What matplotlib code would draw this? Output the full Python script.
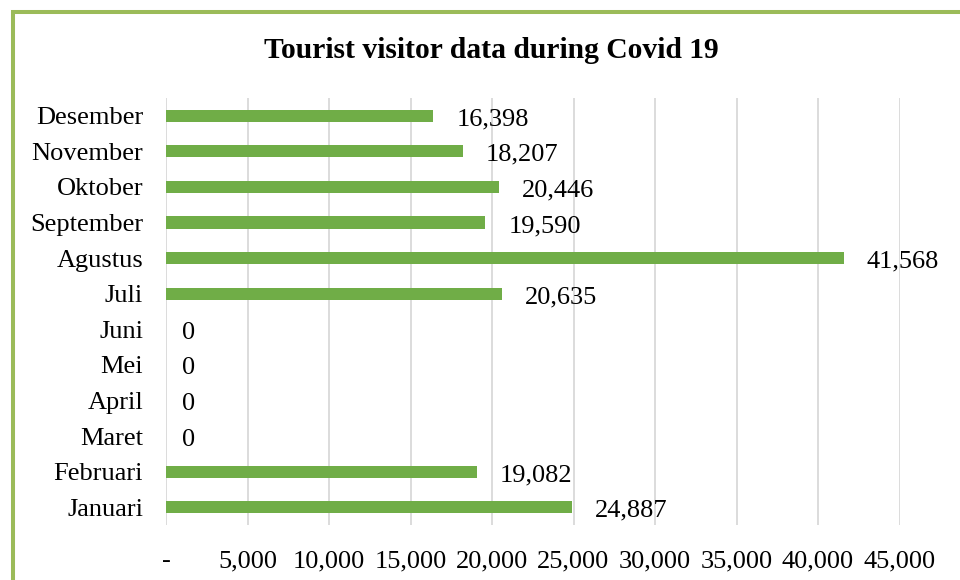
import matplotlib
matplotlib.use("Agg")
import matplotlib.pyplot as plt
from matplotlib.patches import Rectangle
from matplotlib.ticker import FuncFormatter

months = ["Januari", "Februari", "Maret", "April", "Mei", "Juni",
          "Juli", "Agustus", "September", "Oktober", "November", "Desember"]
visitors = [24887, 19082, 0, 0, 0, 0, 20635, 41568, 19590, 20446, 18207, 16398]
x_ticks = [0, 5000, 10000, 15000, 20000, 25000, 30000, 35000, 40000, 45000]
title = "Tourist visitor data during Covid 19"

plt.rcParams['font.family'] = ['Liberation Serif', 'DejaVu Serif']

W, H = 960, 580
fig = plt.figure(figsize=(W / 100, H / 100), dpi=100)
fig.patch.set_facecolor("white")

# green frame (cut at right/bottom edge)
fig.patches.append(Rectangle((12.5 / W, -0.1), 1.2, 1 - 11.5 / H + 0.1,
                             transform=fig.transFigure, fill=False,
                             edgecolor="#9BBB59", linewidth=2.9, zorder=0))

left, right = 166 / W, 899.5 / W
bottom, top = 1 - 525 / H, 1 - 98 / H
ax = fig.add_axes([left, bottom, right - left, top - bottom])

FS = 19
y = list(range(len(months)))
ax.barh(y, visitors, height=0.34, color="#70AD47", zorder=3)
ax.set_xlim(0, 45000)
ax.set_ylim(-0.5, len(months) - 0.5)
ax.set_yticks(y)
ax.set_yticklabels(months, fontsize=FS)
ax.set_xticks(x_ticks)
ax.xaxis.set_major_formatter(FuncFormatter(lambda v, p: "-" if v == 0 else f"{int(v):,}"))
ax.tick_params(axis="both", length=0, labelsize=FS)
ax.tick_params(axis="y", pad=16.5)
ax.tick_params(axis="x", pad=18)
for s in ax.spines.values():
    s.set_visible(False)
ax.grid(axis="x", color="#D9D9D9", linewidth=1.3, zorder=0)
ax.set_axisbelow(True)

for yi, v in zip(y, visitors):
    off = 16 if v == 0 else 23
    ax.annotate(f"{v:,}", xy=(v, yi), xytext=(off * 0.72, -2.5),
                textcoords="offset points", ha="left", va="center",
                fontsize=FS, color="black")

fig.text(0.5 * (265 + 718) / W, 1 - 50 / H, title, ha="center", va="center",
         fontsize=21.3, fontweight="bold")

fig.savefig("out.png", dpi=100, facecolor="white")
